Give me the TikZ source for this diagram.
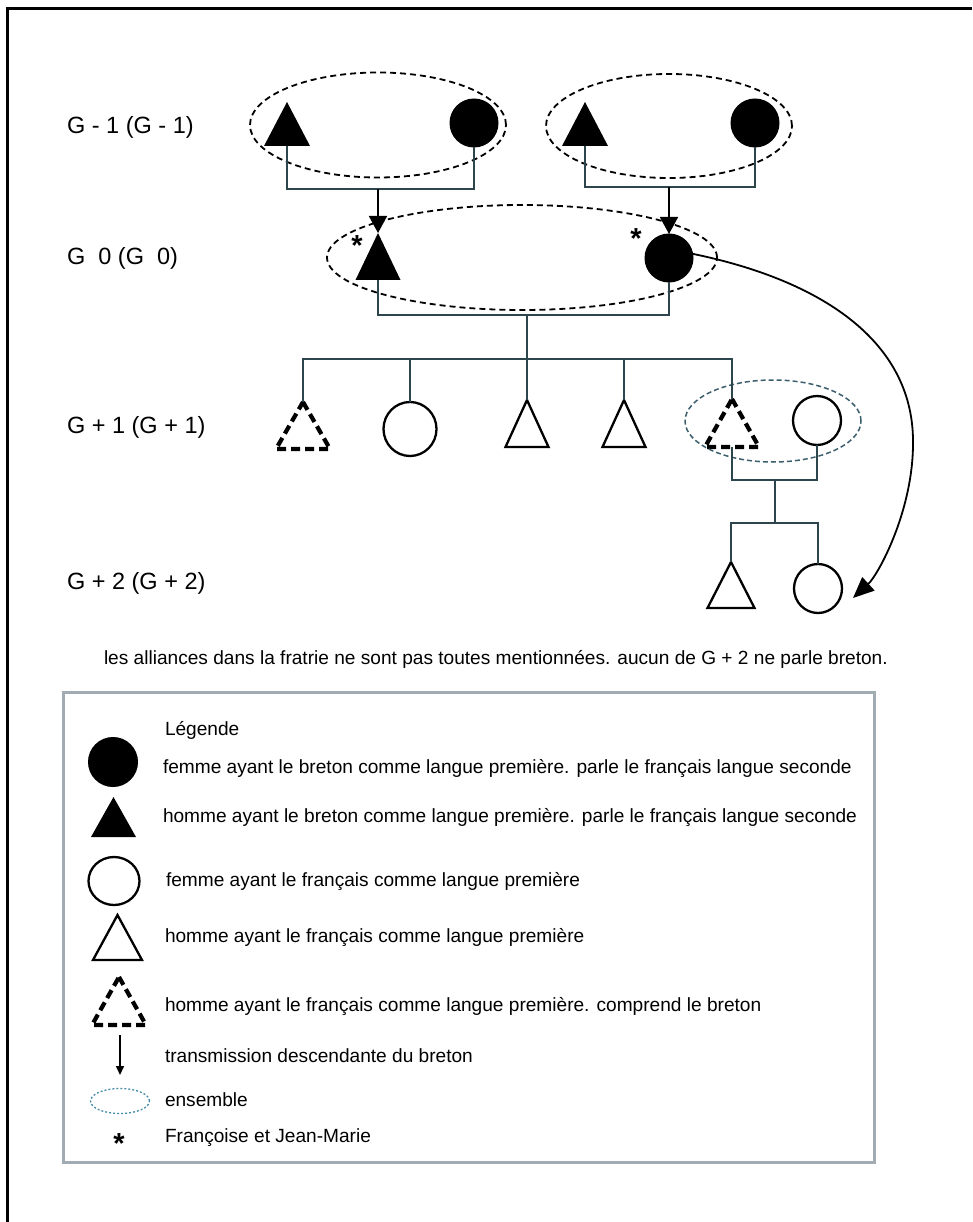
\documentclass[tikz,border=0pt]{standalone}
\usepackage{fontspec}
\setmainfont{Liberation Sans}
\usetikzlibrary{arrows.meta,shapes.geometric}
\definecolor{linkc}{RGB}{45,70,78}
\definecolor{boxc}{RGB}{160,172,178}
\definecolor{ensblue}{RGB}{60,95,110}
\definecolor{dotblue}{RGB}{70,140,170}
\tikzset{
  every node/.style={outer sep=0pt},
  lbl/.style={font=\fontsize{23.5}{28}\selectfont, anchor=west, inner sep=0pt},
  txt/.style={font=\fontsize{19.1}{23}\selectfont, anchor=west, inner sep=0pt},
  starmark/.style={font=\bfseries\fontsize{29}{29}\selectfont, anchor=base, inner sep=0pt},
  fcirc/.style={circle, fill=black, draw=black, line width=1pt, minimum size=#1, inner sep=0pt},
  ocirc/.style 2 args={ellipse, draw=black, line width=2.3pt, minimum width=#1, minimum height=#2, inner sep=0pt},
  tribox/.style 2 args={rectangle, inner sep=0pt, minimum width=#1, minimum height=#2},
  trifill/.style={append after command={\pgfextra{\fill[black] (\tikzlastnode.north) -- (\tikzlastnode.south east) -- (\tikzlastnode.south west) -- cycle;}}},
  triopen/.style={append after command={\pgfextra{\draw[black, line width=2.3pt, line join=miter] (\tikzlastnode.north) -- (\tikzlastnode.south east) -- (\tikzlastnode.south west) -- cycle;}}},
  tridash/.style={append after command={\pgfextra{\draw[black, line width=4.2pt, dash pattern=on 9pt off 5pt] (\tikzlastnode.north) -- (\tikzlastnode.south east) -- (\tikzlastnode.south west) -- cycle;}}},
  ens/.style 2 args={ellipse, draw=black, line width=1.8pt, dash pattern=on 6pt off 4pt, minimum width=#1, minimum height=#2, inner sep=0pt},
  ensb/.style 2 args={ellipse, draw=ensblue, line width=1.5pt, dash pattern=on 5pt off 3pt, minimum width=#1, minimum height=#2, inner sep=0pt},
  ensdot/.style 2 args={ellipse, draw=dotblue, line width=1.3pt, dash pattern=on 2pt off 2pt, minimum width=#1, minimum height=#2, inner sep=0pt},
  link/.style={draw=linkc, line width=1.5pt},
  down/.style={draw=black, line width=1.8pt, -{Triangle[length=17pt,width=18pt]}},
  legbox/.style={draw=boxc, line width=3pt, minimum width=#1, inner sep=0pt},
}
\begin{document}
\begin{tikzpicture}[x=1pt,y=-1pt]
\useasboundingbox (0,0) rectangle (972,1222);
\fill[white] (0,0) rectangle (972,1222);
% frame
\draw[line width=3pt] (7.5,1222) -- (7.5,8.5) -- (972,8.5);

% generation labels
\node[lbl] (L1) at (67,127) {G - 1 (G - 1)};
\node[lbl] (L0) at (67,258) {G\ \ 0 (G\ \ 0)};
\node[lbl] (L2) at (67,427) {G + 1 (G + 1)};
\node[lbl] (L3) at (67,583) {G + 2 (G + 2)};

% G-1
\node[tribox={46pt}{44pt}, trifill] (tA) at (287,124) {};
\node[fcirc=48pt] (cA) at (474,123) {};
\node[tribox={46pt}{44pt}, trifill] (tB) at (585,124) {};
\node[fcirc=48pt] (cB) at (755,123) {};
\node[ens={256pt}{105pt}] (eA) at (378,125) {};
\node[ens={246pt}{104pt}] (eB) at (669,126) {};
\coordinate (jA) at (378,189);
\coordinate (jB) at (669,187);
\draw[link] (tA.south) |- (jA) -| (cA.south);
\draw[link] (tB.south) |- (jB) -| (cB.south);

% G0
\node[tribox={45pt}{47pt}, trifill] (t0) at (378,256.5) {};
\node[fcirc=48pt] (c0) at (669,258) {};
\node[ens={390pt}{105pt}] (e0) at (522,257.5) {};
\node[starmark] (s1) at (357,256) {*};
\node[starmark] (s2) at (636,249) {*};
\draw[down] (jA) -- (t0.north);
\draw[down] (jB) -- (c0.north);
\coordinate (j0) at (527,315);
\draw[link] (t0.south) |- (j0) -| (c0.south);

% G+1
\node[tribox={54pt}{47pt}, tridash] (d1) at (303,425.5) {};
\node[ocirc={53pt}{54pt}] (o1) at (410,429) {};
\node[tribox={43pt}{47pt}, triopen] (m1) at (527,423.5) {};
\node[tribox={43pt}{47pt}, triopen] (m2) at (624,423.5) {};
\node[tribox={54pt}{48pt}, tridash] (d2) at (732,423) {};
\node[ocirc={48pt}{49pt}] (o2) at (817,420.5) {};
\node[ensb={176pt}{82pt}] (e1) at (773,421) {};
\coordinate (busL) at (303,359);
\coordinate (busR) at (732,359);
\draw[link] (j0) -- (m1.north);
\draw[link] (d1.north) -- (busL) -- (busR) -- (d2.north);
\draw[link] (o1.north) -- (o1.north |- busL);
\draw[link] (m2.north) -- (m2.north |- busL);
\coordinate (j1) at (775,480);
\draw[link] (d2.south) |- (j1) -| (o2.south);

% G+2
\node[tribox={47pt}{46pt}, triopen] (g1) at (731,585) {};
\node[ocirc={48pt}{49pt}] (g2) at (818,588.5) {};
\coordinate (bus2) at (775,523);
\draw[link] (j1) -- (bus2);
\draw[link] (g1.north) |- (bus2) -| (g2.north);

% long transmission arrow
\coordinate (tipG) at (853,598);
\draw[line width=1.8pt, -{Triangle[length=21pt,width=18pt]}] (c0.10) .. controls (820,280) and (912,340) .. (913,440) .. controls (914,510) and (878,575) .. (tipG);

% note
\node[txt] (note) at (104,659) {les alliances dans la fratrie ne sont pas toutes mentionnées. aucun de G + 2 ne parle breton.};

% legend
\node[legbox=811pt, minimum height=470pt] (box) at (468.5,927) {};
\node[txt] (lg) at (165,730) {Légende};
\node[fcirc=49pt] (k1) at (113,762) {};
\node[txt] (k1t) at (163,768) {femme ayant le breton comme langue première. parle le français langue seconde};
\node[tribox={45pt}{40pt}, trifill] (k2) at (113.5,817) {};
\node[txt] (k2t) at (163,817) {homme ayant le breton comme langue première. parle le français langue seconde};
\node[ocirc={51pt}{48pt}] (k3) at (114,881) {};
\node[txt] (k3t) at (166,881) {femme ayant le français comme langue première};
\node[tribox={49pt}{45pt}, triopen] (k4) at (117.5,937.5) {};
\node[txt] (k4t) at (165,937) {homme ayant le français comme langue première};
\node[tribox={54pt}{48pt}, tridash] (k5) at (119,1001) {};
\node[txt] (k5t) at (165,1006) {homme ayant le français comme langue première. comprend le breton};
\coordinate (k6a) at (120,1035);
\coordinate (k6b) at (120,1075);
\draw[line width=1.5pt, -{Triangle[length=9pt,width=8pt]}] (k6a) -- (k6b);
\node[txt] (k6t) at (165,1056) {transmission descendante du breton};
\node[ensdot={59pt}{25pt}] (k7) at (120,1101) {};
\node[txt] (k7t) at (165,1100) {ensemble};
\node[starmark] (k8) at (119,1153) {*};
\node[txt] (k8t) at (165,1138) {Françoise et Jean-Marie};
\end{tikzpicture}
\end{document}
